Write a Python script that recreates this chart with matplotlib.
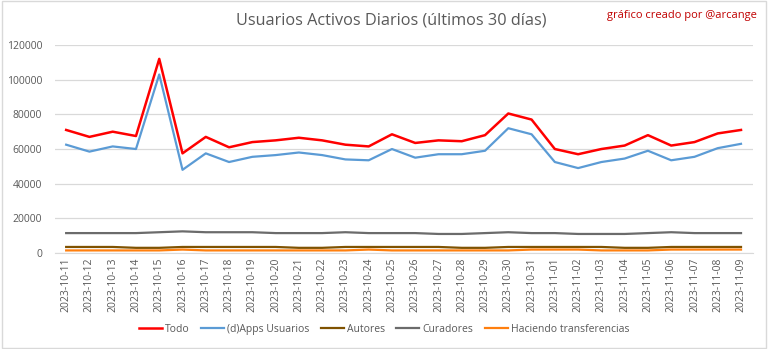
import matplotlib
matplotlib.use('Agg')
import matplotlib.pyplot as plt
from matplotlib.patches import Rectangle

dates = ['2023-10-11', '2023-10-12', '2023-10-13', '2023-10-14', '2023-10-15', '2023-10-16',
         '2023-10-17', '2023-10-18', '2023-10-19', '2023-10-20', '2023-10-21', '2023-10-22',
         '2023-10-23', '2023-10-24', '2023-10-25', '2023-10-26', '2023-10-27', '2023-10-28',
         '2023-10-29', '2023-10-30', '2023-10-31', '2023-11-01', '2023-11-02', '2023-11-03',
         '2023-11-04', '2023-11-05', '2023-11-06', '2023-11-07', '2023-11-08', '2023-11-09']

todo = [71000, 67000, 70000, 67500, 112000, 57500, 67000, 61000, 64000, 65000,
        66500, 65000, 62500, 61500, 68500, 63500, 65000, 64500, 68000, 80500,
        77000, 60000, 57000, 60000, 62000, 68000, 62000, 64000, 69000, 71000]
dapps = [62500, 58500, 61500, 60000, 103000, 48000, 57500, 52500, 55500, 56500,
         58000, 56500, 54000, 53500, 60000, 55000, 57000, 57000, 59000, 72000,
         68500, 52500, 49000, 52500, 54500, 59000, 53500, 55500, 60500, 63000]
autores = [3500, 3500, 3500, 3000, 3000, 3500, 3500, 3500, 3500, 3500,
           3000, 3000, 3500, 3500, 3500, 3500, 3500, 3000, 3000, 3500,
           3500, 3500, 3500, 3500, 3000, 3000, 3500, 3500, 3500, 3500]
curadores = [11500, 11500, 11500, 11500, 12000, 12500, 12000, 12000, 12000, 11500,
             11500, 11500, 12000, 11500, 11500, 11500, 11000, 11000, 11500, 12000,
             11500, 11500, 11000, 11000, 11000, 11500, 12000, 11500, 11500, 11500]
transfers = [1500, 1500, 1500, 1500, 1500, 2000, 1500, 1500, 1500, 1500,
             1500, 1500, 1500, 2000, 1500, 1500, 1500, 1500, 1500, 1500,
             2000, 2000, 2000, 1500, 1500, 1500, 2000, 2000, 2000, 2000]

plt.rcParams['font.family'] = ['Open Sans', 'DejaVu Sans']

fig = plt.figure(figsize=(7.68, 3.49), dpi=100)
ax = fig.add_axes([0.071, 0.275, 0.909, 0.596])

x = range(len(dates))
ax.plot(x, todo, color='#ff0000', lw=1.8, label='Todo', zorder=5)
ax.plot(x, dapps, color='#5b9bd5', lw=1.6, label='(d)Apps Usuarios', zorder=4)
ax.plot(x, autores, color='#7f5200', lw=1.6, label='Autores', zorder=3)
ax.plot(x, curadores, color='#6b6b6b', lw=1.6, label='Curadores', zorder=3)
ax.plot(x, transfers, color='#ff7f0e', lw=1.6, label='Haciendo transferencias', zorder=3)

ax.set_xlim(-0.5, len(dates) - 0.5)
ax.set_ylim(0, 120000)
ax.set_yticks(range(0, 120001, 20000))
ax.set_xticks(list(x))
ax.set_xticklabels(dates, rotation=90)
ax.tick_params(axis='both', length=0, labelsize=7.5, colors='#595959')
ax.tick_params(axis='y', pad=9)
ax.tick_params(axis='x', pad=3)
ax.grid(axis='y', color='#d9d9d9', lw=0.9)
ax.set_axisbelow(True)
for s in ['top', 'right', 'left']:
    ax.spines[s].set_visible(False)
ax.spines['bottom'].set_color('#d9d9d9')

fig.text(0.51, 0.942, 'Usuarios Activos Diarios (últimos 30 días)', ha='center', va='center',
         fontsize=11.7, color='#595959')
fig.text(0.986, 0.955, 'gráfico creado por @arcange', ha='right', va='center',
         fontsize=8, color='#c00000')

fig.legend(loc='center', bbox_to_anchor=(0.5, 0.057), ncol=5, frameon=False,
           fontsize=7.5, labelcolor='#595959', handlelength=2.2, columnspacing=1.1,
           handletextpad=0.3)

fig.patches.append(Rectangle((0.002, 0.003), 0.995, 0.994, transform=fig.transFigure,
                             fill=False, edgecolor='#d9d9d9', lw=1))

fig.savefig('out.png', dpi=100)
